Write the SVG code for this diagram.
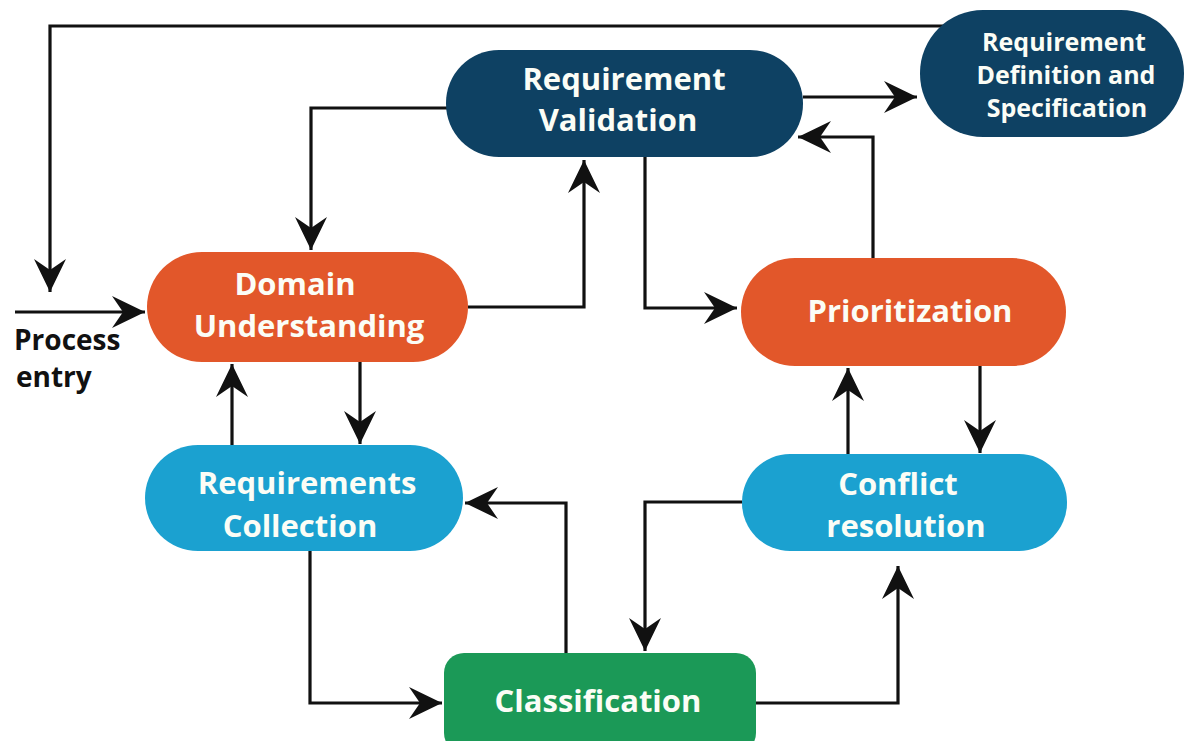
<svg xmlns="http://www.w3.org/2000/svg" width="1188" height="741" viewBox="0 0 1188 741">
  <defs>
    <style>
      .edge { fill: none; stroke: #111; stroke-width: 3.2; marker-end: url(#arrow); }
      .lbl { font-family: "Open Sans", "Liberation Sans", sans-serif; font-weight: 700; font-size: 31px; fill: #fbfdf6; text-anchor: middle; }
      .small { font-size: 25px; }
      .entry { font-family: "Open Sans", "Liberation Sans", sans-serif; font-weight: 700; font-size: 28px; fill: #111; }
      .navy { fill: #0e4163; }
      .orange { fill: #e2572a; }
      .sky { fill: #1ba1d0; }
      .green { fill: #1b9957; }
    </style>
    <marker id="arrow" markerUnits="userSpaceOnUse" viewBox="-35 -18 37 36" markerWidth="37" markerHeight="36" refX="0" refY="0" orient="auto">
      <path d="M0,0 L-33,-16 L-22,0 L-33,16 Z" fill="#111"/>
    </marker>
  </defs>
  <rect width="1188" height="741" fill="#ffffff"/>

  <!-- all arrows; nodes are drawn over their ends -->
  <g id="connectors">
    <path class="edge" d="M950 26 H50 V292"/>
    <path class="edge" d="M15 312 H145"/>
    <path class="edge" d="M447 108 H311 V250"/>
    <path class="edge" d="M468 307 H584 V160"/>
    <path class="edge" d="M803 97 H917"/>
    <path class="edge" d="M873 258 V137 H798"/>
    <path class="edge" d="M645 156 V308 H737"/>
    <path class="edge" d="M980 366 V453"/>
    <path class="edge" d="M848 454 V368"/>
    <path class="edge" d="M742 502 H645 V651"/>
    <path class="edge" d="M756 703 H898 V566"/>
    <path class="edge" d="M566 653 V503 H465"/>
    <path class="edge" d="M310 550 V703 H442"/>
    <path class="edge" d="M232 445 V364"/>
    <path class="edge" d="M360 362 V444"/>
  </g>

  <g id="process-entry">
    <text class="entry" x="14" y="350">Process</text>
    <text class="entry" x="16" y="387">entry</text>
  </g>

  <g id="requirement-validation">
    <rect class="navy" x="446" y="50" width="357" height="107" rx="53"/>
    <text class="lbl" x="624" y="90">Requirement</text>
    <text class="lbl" x="618" y="131">Validation</text>
  </g>

  <g id="requirement-definition">
    <rect class="navy" x="920" y="10" width="264" height="127" rx="63"/>
    <text class="lbl small" x="1064" y="51">Requirement</text>
    <text class="lbl small" x="1066" y="84">Definition and</text>
    <text class="lbl small" x="1067" y="117">Specification</text>
  </g>

  <g id="domain-understanding">
    <rect class="orange" x="147" y="252" width="321" height="110" rx="55"/>
    <text class="lbl" x="295" y="295">Domain</text>
    <text class="lbl" x="309" y="337">Understanding</text>
  </g>

  <g id="prioritization">
    <rect class="orange" x="741" y="258" width="325" height="108" rx="54"/>
    <text class="lbl" x="910" y="322">Prioritization</text>
  </g>

  <g id="requirements-collection">
    <rect class="sky" x="145" y="445" width="318" height="106" rx="53"/>
    <text class="lbl" x="307" y="494">Requirements</text>
    <text class="lbl" x="300" y="537">Collection</text>
  </g>

  <g id="conflict-resolution">
    <rect class="sky" x="742" y="454" width="325" height="97" rx="48"/>
    <text class="lbl" x="898" y="495">Conflict</text>
    <text class="lbl" x="906" y="537">resolution</text>
  </g>

  <g id="classification">
    <rect class="green" x="444" y="653" width="312" height="100" rx="20"/>
    <text class="lbl" x="598" y="712">Classification</text>
  </g>
</svg>
